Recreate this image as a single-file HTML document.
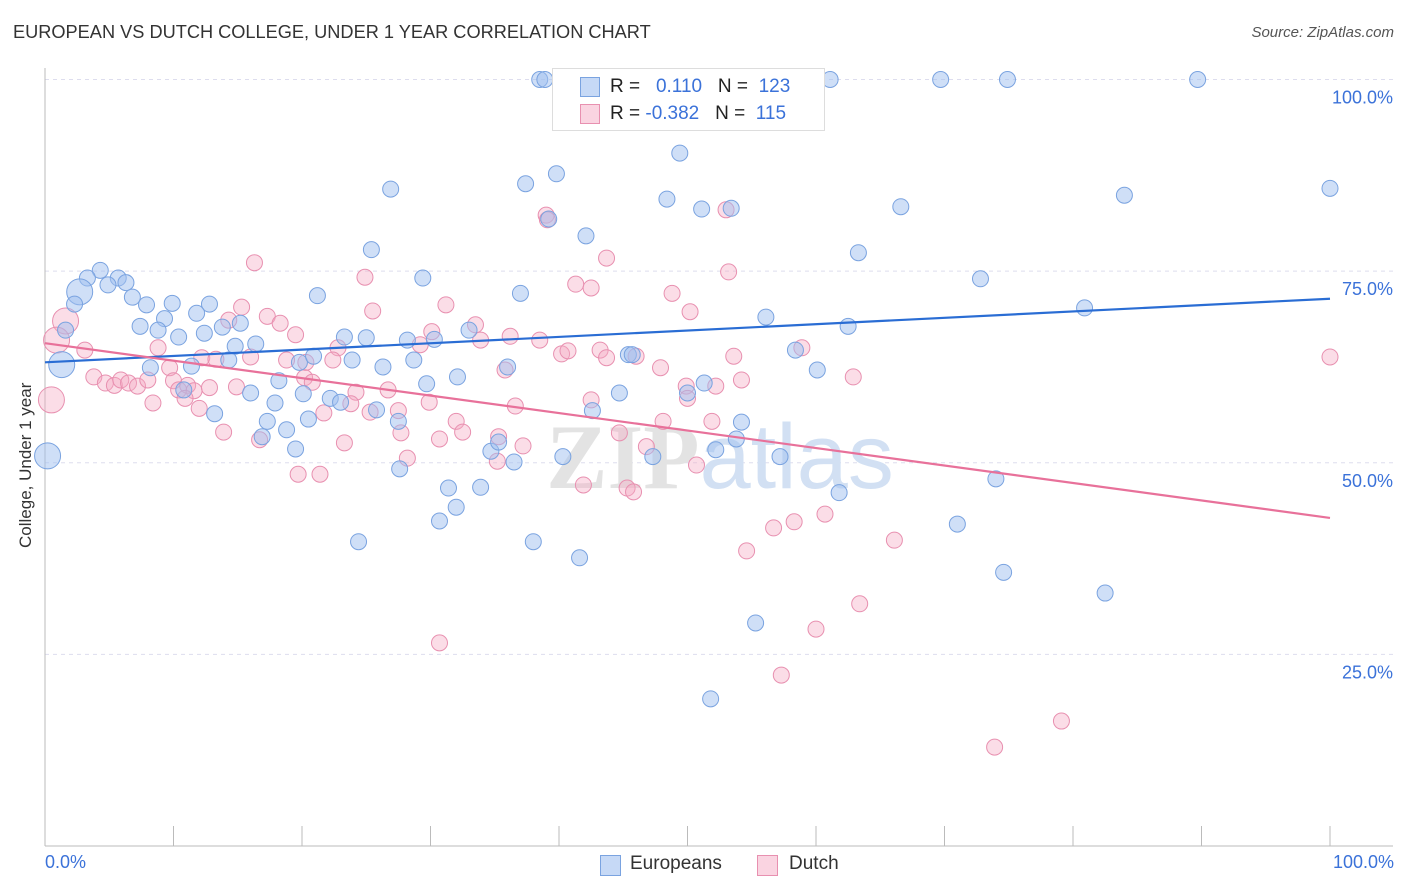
<!DOCTYPE html>
<html><head><meta charset="utf-8">
<style>
body{margin:0;background:#fff;font-family:"Liberation Sans",sans-serif;}
#wrap{position:relative;width:1406px;height:892px;overflow:hidden;}
.t{position:absolute;white-space:nowrap;}
</style></head>
<body>
<div id="wrap">
<div class="t" style="left:13px;top:22px;font-size:18.2px;color:#333;">EUROPEAN VS DUTCH COLLEGE, UNDER 1 YEAR CORRELATION CHART</div>
<div class="t" style="right:12px;top:24px;font-size:15px;color:#555;font-style:italic;">Source: ZipAtlas.com</div>
<svg id="chart" width="1406" height="892" style="position:absolute;left:0;top:0"></svg>
</div>
<script>
const blueX=[38.5,38.9,46.1,53.2,61.1,69.7,74.9,89.7,49.4,26.9,37.4,39.8,48.4,51.1,53.4,66.6,84.0,100,39.2,42.1,25.4,63.3,72.8,29.4,80.9,4.3,3.3,5.7,4.9,6.3,2.7,2.3,6.8,7.9,9.9,12.8,11.8,9.3,7.4,8.8,10.4,13.8,12.4,15.2,21.2,37.0,1.6,1.3,0.2,14.8,16.4,14.3,11.4,8.2,19.8,20.9,23.3,25.0,23.9,26.3,28.2,28.7,30.3,33.0,36.0,32.1,29.7,18.2,16.0,10.8,20.1,22.2,23.0,17.9,13.2,17.3,18.8,16.9,19.5,20.5,25.8,27.5,27.6,31.4,32.0,30.7,33.9,34.7,35.3,36.5,40.3,42.6,44.7,45.4,45.7,50.0,51.3,54.2,53.8,52.2,47.3,56.1,58.4,60.1,62.5,61.8,57.2,38.0,41.6,24.4,71.0,74.0,74.6,82.5,55.3,51.8];
const blueY=[100,100,100,100,100,100,100,100,90.4,85.7,86.4,87.7,84.4,83.1,83.2,83.4,84.9,85.8,81.8,79.6,77.8,77.4,74.0,74.1,70.2,75.1,74.1,74.1,73.2,73.5,72.3,70.7,71.6,70.6,70.8,70.7,69.5,68.8,67.8,67.3,66.4,67.7,66.9,68.2,71.8,72.1,67.3,62.8,50.9,65.2,65.5,63.4,62.6,62.4,63.1,63.9,66.4,66.3,63.4,62.5,66.0,63.4,66.1,67.3,62.5,61.2,60.3,60.7,59.1,59.5,59.0,58.4,57.9,57.8,56.4,55.4,54.3,53.4,51.8,55.7,56.9,55.4,49.2,46.7,44.2,42.4,46.8,51.5,52.7,50.1,50.8,56.8,59.1,64.1,64.1,59.1,60.4,55.3,53.1,51.7,50.8,69.0,64.7,62.1,67.8,46.1,50.8,39.7,37.6,39.7,42.0,47.9,35.7,33.0,29.1,19.2];
const pinkX=[16.3,39.0,39.1,53.0,43.7,53.2,41.3,42.5,48.8,50.2,24.9,31.2,25.5,15.3,17.3,18.3,19.5,14.3,1.6,8.8,3.1,0.9,0.5,3.8,4.7,5.4,5.9,6.5,7.2,8.0,8.4,9.7,10.0,10.4,11.1,11.6,10.9,12.0,12.8,12.2,13.3,14.9,13.9,16.7,16.0,18.8,20.2,20.8,20.3,22.8,22.4,24.2,23.8,26.7,27.5,25.3,23.3,21.7,19.7,21.4,28.2,27.7,29.2,30.1,33.5,33.9,36.2,38.5,40.2,40.7,43.2,43.7,46.0,47.9,29.9,30.7,32.0,32.5,35.3,35.8,36.6,37.2,35.2,41.9,44.7,45.3,45.8,46.8,48.1,49.9,50.0,51.9,52.2,50.7,53.6,54.2,54.6,56.7,58.3,58.9,60.7,62.9,66.1,63.4,60.0,57.3,79.1,73.9,30.7,100,42.5];
const pinkY=[76.1,82.3,81.7,83.0,76.7,74.9,73.3,72.8,72.1,69.7,74.2,70.6,69.8,70.3,69.1,68.2,66.7,68.6,68.5,65.0,64.7,66.0,58.2,61.2,60.4,60.1,60.8,60.4,60.0,60.8,57.8,62.4,60.7,59.5,60.1,59.4,58.4,57.1,59.8,63.7,63.5,59.9,54.0,53.0,63.8,63.4,61.1,60.5,63.1,65.0,63.4,59.2,57.7,59.5,56.8,56.6,52.6,56.5,48.5,48.5,50.6,53.9,65.4,67.1,68.0,66.0,66.5,66.0,64.2,64.6,64.7,63.7,63.9,62.4,57.9,53.1,55.4,54.0,53.4,62.1,57.4,52.2,50.2,47.1,53.9,46.7,46.2,52.1,55.4,60.0,58.4,55.4,60.0,49.7,63.9,60.8,38.5,41.5,42.3,65.0,43.3,61.2,39.9,31.6,28.3,22.3,16.3,12.9,26.5,63.8,58.2];
const bigBlue=[47,48,30];const bigPink=[18,21,22];
const blueTrend=[63.1,71.4];const pinkTrend=[65.6,42.8];
const yTicks=[25,50,75,100];const yTickLabels=["25.0%","50.0%","75.0%","100.0%"];
const xTickVals=[0,10,20,30,40,50,60,70,80,90,100];

const NS="http://www.w3.org/2000/svg";const svg=document.getElementById('chart');
const X0=45,X1=1330,Y0=846,Y100=79.5;
const sx=v=>X0+(X1-X0)*v/100;const sy=v=>Y0-(Y0-Y100)*v/100;
function mk(tag,a){const e=document.createElementNS(NS,tag);for(const k in a)e.setAttribute(k,a[k]);svg.appendChild(e);return e;}
yTicks.forEach((v,i)=>{
 const g=mk('line',{x1:X0,x2:1393,y1:sy(v),y2:sy(v),stroke:'#dde',"stroke-dasharray":'4 4'});
 
 
 const t=mk('text',{x:1393,y:sy(v)+24,'text-anchor':'end','font-size':18,fill:'#3b72d9','font-family':'Liberation Sans'});
 t.textContent=yTickLabels[i];
 
 
});
const ax=mk('line',{x1:X0,x2:X0,y1:68,y2:Y0,stroke:'#bbb'});


const bx=mk('line',{x1:X0,x2:1393,y1:Y0,y2:Y0,stroke:'#bbb'});


xTickVals.forEach(v=>{const l=mk('line',{x1:sx(v),x2:sx(v),y1:826,y2:Y0,stroke:'#bbb'});
 
 });
const wm=mk('text',{x:720,y:488,'text-anchor':'middle','font-size':92,'font-family':'Liberation Serif','font-weight':'bold',fill:'#e3e3e3'});
wm.innerHTML='ZIP<tspan fill="#d2e0f3" font-family="Liberation Sans" font-weight="normal">atlas</tspan>';


function pts(xs,ys,big,fill,stroke,name){xs.forEach((x,i)=>{const c=mk('circle',{cx:sx(x),cy:sy(ys[i]),r:big.includes(i)?13:8,fill:fill,stroke:stroke,'stroke-width':1});
 
 });}
pts(pinkX,pinkY,bigPink,'rgba(246,170,196,0.4)','#e890b0','dutch-point');
pts(blueX,blueY,bigBlue,'rgba(160,192,240,0.5)','#7aa3e0','european-point');
const bl=mk('line',{x1:sx(0),y1:sy(blueTrend[0]),x2:sx(100),y2:sy(blueTrend[1]),stroke:'#2a6dd4','stroke-width':2.2});


const pl=mk('line',{x1:sx(0),y1:sy(pinkTrend[0]),x2:sx(100),y2:sy(pinkTrend[1]),stroke:'#e8719a','stroke-width':2.2});


</script>
<div class="t" style="left:16px;top:548px;transform:rotate(-90deg);transform-origin:0 0;font-size:17px;color:#333;">College, Under 1 year</div>
<div class="t" style="left:45px;top:852px;font-size:18px;color:#3b72d9;">0.0%</div>
<div class="t" style="right:12px;top:852px;font-size:18px;color:#3b72d9;">100.0%</div>
<div style="position:absolute;left:552px;top:68px;width:271px;height:61px;border:1px solid #ddd;background:#fff;font-size:19px;color:#222;">
 <div style="position:absolute;left:27px;top:8px;width:18px;height:18px;background:rgba(160,192,240,0.6);border:1px solid #7aa3e0;"></div>
 <div class="t" style="left:57px;top:7px;">R = &nbsp;&nbsp;<span style="color:#3b72d9">0.110</span> &nbsp;&nbsp;N = &nbsp;<span style="color:#3b72d9">123</span></div>
 <div style="position:absolute;left:27px;top:35px;width:18px;height:18px;background:rgba(246,170,196,0.5);border:1px solid #e890b0;"></div>
 <div class="t" style="left:57px;top:34px;">R = <span style="color:#3b72d9">-0.382</span> &nbsp;&nbsp;N = &nbsp;<span style="color:#3b72d9">115</span></div>
</div>
<div style="position:absolute;left:600px;top:855px;width:19px;height:19px;background:rgba(160,192,240,0.6);border:1px solid #7aa3e0;"></div>
<div class="t" style="left:630px;top:853px;font-size:19px;color:#333;">Europeans</div>
<div style="position:absolute;left:757px;top:855px;width:19px;height:19px;background:rgba(246,170,196,0.5);border:1px solid #e890b0;"></div>
<div class="t" style="left:789px;top:853px;font-size:19px;color:#333;">Dutch</div>
</body></html>
